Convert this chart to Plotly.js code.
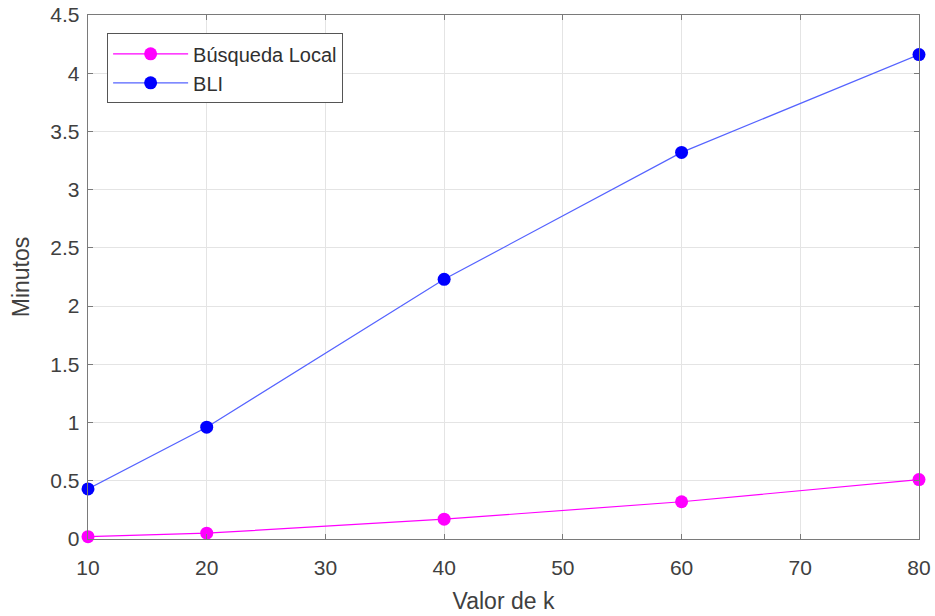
<!DOCTYPE html>
<html>
<head>
<meta charset="utf-8">
<script src="https://cdn.plot.ly/plotly-3.0.1.min.js"></script>
<style>html,body{margin:0;padding:0;background:#fff;}#chart{width:935px;height:616px;}</style>
</head>
<body>
<div id="chart"></div>
<script>
const kValues = [10, 20, 40, 60, 80];
const busquedaLocal = [0.02, 0.05, 0.17, 0.32, 0.51];
const bli = [0.43, 0.96, 2.23, 3.32, 4.16];
const xTicks = [10, 20, 30, 40, 50, 60, 70, 80];
const yTicks = [0, 0.5, 1, 1.5, 2, 2.5, 3, 3.5, 4, 4.5];
const yTickText = ['0', '0.5', '1', '1.5', '2', '2.5', '3', '3.5', '4', '4.5'];

const FONT = 'Liberation Sans, Arial, sans-serif';

const traces = [
  {x: kValues, y: busquedaLocal, name: 'Búsqueda Local', mode: 'lines+markers',
   line: {color: '#ff00ff', width: 1.2}, marker: {color: '#ff00ff', size: 13}, cliponaxis: false},
  {x: kValues, y: bli, name: 'BLI', mode: 'lines+markers',
   line: {color: '#5563ff', width: 1.2}, marker: {color: '#0000ff', size: 13}, cliponaxis: false}
];

const axisCommon = {
  showline: true, mirror: 'ticks', linecolor: '#7a7a7a', linewidth: 1.3,
  ticks: 'inside', ticklen: 5, tickcolor: '#7a7a7a',
  showgrid: true, gridcolor: '#e4e4e4', gridwidth: 1, zeroline: false,
  tickfont: {family: FONT, size: 21, color: '#404040'}
};

const layout = {
  width: 935, height: 616,
  margin: {l: 88, r: 16, t: 15, b: 77},
  paper_bgcolor: '#fff', plot_bgcolor: '#fff',
  showlegend: true,
  legend: {x: 0.023, y: 0.965, xanchor: 'left', yanchor: 'top',
    bgcolor: '#fff', bordercolor: '#555', borderwidth: 1,
    font: {family: FONT, size: 20, color: '#303030'},
    tracegroupgap: 0, itemwidth: 75},
  xaxis: Object.assign({}, axisCommon, {range: [10, 80], tickvals: xTicks, ticktext: xTicks.map(String),
    ticklabelstandoff: 9,
    title: {text: 'Valor de k', font: {family: FONT, size: 23, color: '#404040'}, standoff: 15}}),
  yaxis: Object.assign({}, axisCommon, {range: [0, 4.5], tickvals: yTicks, ticktext: yTickText,
    ticklabelstandoff: 3,
    title: {text: 'Minutos', font: {family: FONT, size: 23, color: '#404040'}, standoff: 14}})
};

Plotly.newPlot('chart', traces, layout, {displayModeBar: false, staticPlot: true});
</script>
</body>
</html>
